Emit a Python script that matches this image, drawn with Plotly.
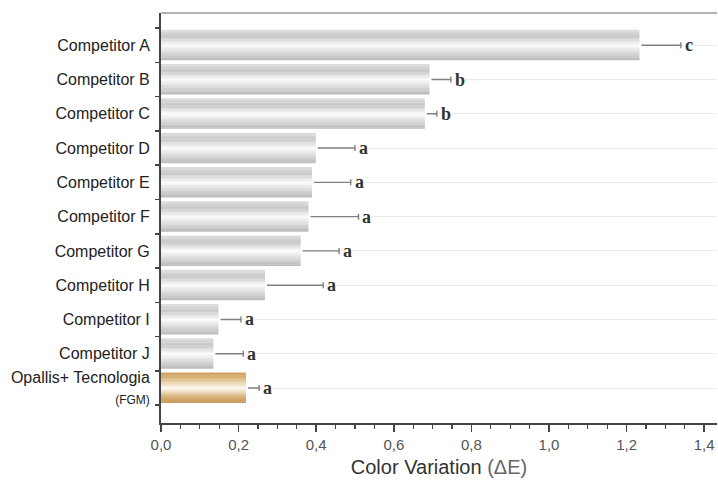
import numpy as np
import plotly.graph_objects as go

# ---- data ----
categories = ["Competitor A", "Competitor B", "Competitor C", "Competitor D",
              "Competitor E", "Competitor F", "Competitor G", "Competitor H",
              "Competitor I", "Competitor J",
              "Opallis+ Tecnologia<br><span style='font-size:12px'>(FGM)</span>"]
delta_e = [1.233, 0.692, 0.680, 0.399, 0.389, 0.380, 0.360, 0.268, 0.148, 0.135, 0.219]
error_plus = [0.107, 0.055, 0.031, 0.101, 0.100, 0.129, 0.099, 0.150, 0.058, 0.077, 0.034]
group_letters = ["c", "b", "b", "a", "a", "a", "a", "a", "a", "a", "a"]
is_highlight = [False] * 10 + [True]
x_tickvals = [0.0, 0.2, 0.4, 0.6, 0.8, 1.0, 1.2, 1.4]
x_ticktext = ["0,0", "0,2", "0,4", "0,6", "0,8", "1,0", "1,2", "1,4"]

n = len(categories)
ypos = list(range(n - 1, -1, -1))  # top category drawn highest

# ---- styling helpers (gradient stripes) ----
BAR_W = 0.88
N_STRIPES = 22
gray_stops = [(0.0, (224, 224, 224)), (0.22, (199, 199, 199)), (0.52, (251, 251, 251)),
              (0.80, (212, 212, 212)), (1.0, (186, 186, 186))]
gold_stops = [(0.0, (204, 160, 94)), (0.22, (221, 186, 132)), (0.52, (253, 249, 242)),
              (0.80, (214, 176, 118)), (1.0, (194, 150, 84))]


def interp(stops, t):
    ts = [s[0] for s in stops]
    out = []
    for k in range(3):
        out.append(int(round(np.interp(t, ts, [s[1][k] for s in stops]))))
    return "rgb(%d,%d,%d)" % tuple(out)


fig = go.Figure()

# error bars (drawn first so bar outlines cover their start)
fig.add_trace(go.Bar(
    x=delta_e, y=ypos, orientation="h", width=BAR_W,
    marker=dict(color="rgba(0,0,0,0)", line=dict(width=0)),
    error_x=dict(type="data", symmetric=False, array=error_plus,
                 arrayminus=[0] * n, color="#808080", thickness=1.4, width=3),
    hoverinfo="skip", showlegend=False))

# white outline behind gradient
fig.add_trace(go.Bar(
    x=delta_e, y=ypos, orientation="h", width=BAR_W,
    marker=dict(color="white", line=dict(color="white", width=4)),
    hoverinfo="skip", showlegend=False))

sw = BAR_W / N_STRIPES
for i in range(N_STRIPES):
    t = (i + 0.5) / N_STRIPES
    cols = [interp(gold_stops, t) if h else interp(gray_stops, t) for h in is_highlight]
    fig.add_trace(go.Bar(
        x=delta_e, y=ypos, orientation="h",
        width=sw * 1.25, offset=BAR_W / 2 - (i + 1) * sw,
        marker=dict(color=cols, line=dict(width=0)),
        hoverinfo="skip", showlegend=False))

# group letters
for v, e, yy, lab in zip(delta_e, error_plus, ypos, group_letters):
    fig.add_annotation(x=v + e, y=yy, text="<b>%s</b>" % lab, showarrow=False,
                       xanchor="left", yanchor="middle", xshift=3,
                       font=dict(family="Liberation Serif", size=18, color="#333"),
                       bgcolor="white", borderpad=0)

half_ticks = [k - 0.5 for k in range(n + 1)]
yrange = [-1.02, n - 1 + 0.94]

fig.update_layout(
    width=718, height=486,
    margin=dict(l=161, r=1, t=13, b=63, autoexpand=False),
    barmode="overlay",
    plot_bgcolor="white", paper_bgcolor="white",
    font=dict(family="Liberation Sans, Arial, sans-serif"),
    showlegend=False,
    xaxis=dict(
        range=[0, 1.433], tickvals=x_tickvals, ticktext=x_ticktext,
        ticks="outside", ticklen=7, tickwidth=1.5, tickcolor="#444",
        minor=dict(dtick=0.05, tick0=0, ticks="outside", ticklen=4,
                   tickwidth=1.2, tickcolor="#444", showgrid=False),
        showline=True, linecolor="#444", linewidth=2,
        showgrid=False, zeroline=False, automargin=False,
        tickfont=dict(size=15, color="#555"),
        title=dict(text="Color Variation <span style='color:#666'>(ΔE)</span>",
                   font=dict(size=20, color="#333"), standoff=8),
    ),
    yaxis=dict(
        range=yrange, tickvals=ypos, ticktext=categories,
        ticks="", ticklabelstandoff=6, automargin=False,
        minor=dict(tickmode="array", tickvals=half_ticks, ticks="outside",
                   ticklen=4, tickwidth=1.5, tickcolor="#444", showgrid=False),
        showgrid=True, gridcolor="#ebebeb", gridwidth=1,
        showline=True, linecolor="#444", linewidth=2, zeroline=False,
        tickfont=dict(size=16, color="#222"),
    ),
    yaxis2=dict(
        range=yrange, overlaying="y", side="left", anchor="x", automargin=False,
        tickvals=half_ticks, ticks="inside", ticklen=5, tickwidth=1.5,
        tickcolor="#444", showticklabels=False, showgrid=False,
        showline=False, zeroline=False,
    ),
    shapes=[dict(type="line", xref="paper", yref="paper", x0=0, x1=1, y0=1, y1=1,
                 line=dict(color="#9a9a9a", width=1.5))],
)

fig.write_html("out.html",
               config={"displayModeBar": False, "staticPlot": True},
               post_script="document.body.style.margin='0';document.body.style.padding='0';")
